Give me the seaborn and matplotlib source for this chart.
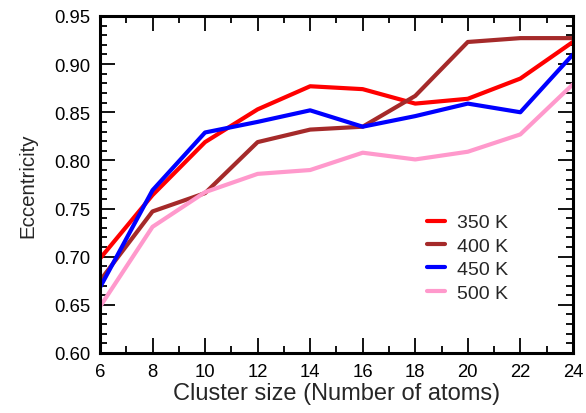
import matplotlib
matplotlib.use("Agg")
import matplotlib.pyplot as plt
from matplotlib.ticker import MultipleLocator
import seaborn as sns
import pandas as pd

sizes = [6, 8, 10, 12, 14, 16, 18, 20, 22, 24]
ecc_350 = [0.698, 0.764, 0.819, 0.853, 0.877, 0.874, 0.859, 0.864, 0.885, 0.923]
ecc_400 = [0.675, 0.747, 0.766, 0.819, 0.832, 0.835, 0.867, 0.923, 0.927, 0.927]
ecc_450 = [0.668, 0.769, 0.829, 0.840, 0.852, 0.835, 0.846, 0.859, 0.850, 0.910]
ecc_500 = [0.648, 0.731, 0.767, 0.786, 0.790, 0.808, 0.801, 0.809, 0.827, 0.879]
labels = ["350 K", "400 K", "450 K", "500 K"]
colors = ["#FF0000", "#A52A2A", "#0000FF", "#FF99CC"]

rows = []
for lab, vals in zip(labels, [ecc_350, ecc_400, ecc_450, ecc_500]):
    for s, v in zip(sizes, vals):
        rows.append({"size": s, "ecc": v, "T": lab})
df = pd.DataFrame(rows)

sns.set_style("ticks")
plt.rcParams["font.family"] = ["Liberation Sans", "DejaVu Sans"]

fig = plt.figure(figsize=(5.86, 4.14), dpi=100)
ax = fig.add_axes([0.1706, 0.145, 0.807, 0.814])
sns.lineplot(data=df, x="size", y="ecc", hue="T", palette=colors,
             hue_order=labels, linewidth=3, ax=ax)

ax.set_xlim(6, 24)
ax.set_ylim(0.60, 0.95)
ax.xaxis.set_major_locator(MultipleLocator(2))
ax.xaxis.set_minor_locator(MultipleLocator(1))
ax.yaxis.set_major_locator(MultipleLocator(0.05))
ax.yaxis.set_minor_locator(MultipleLocator(0.01))
ax.yaxis.set_major_formatter(matplotlib.ticker.FormatStrFormatter("%.2f"))
ax.tick_params(which="both", direction="in", top=True, right=True, width=1.3, colors="black")
ax.tick_params(which="major", length=11, labelsize=13.3, pad=7)
ax.tick_params(which="minor", length=5)
for sp in ax.spines.values():
    sp.set_visible(True)
    sp.set_linewidth(2.2)
    sp.set_color("black")

ax.set_xlabel("Cluster size (Number of atoms)", fontsize=17, labelpad=2)
ax.set_ylabel("Eccentricity", fontsize=14.8, labelpad=12)

leg = ax.legend(loc="upper left", bbox_to_anchor=(0.655, 0.465), frameon=False,
                fontsize=14, handlelength=0.9, handletextpad=0.65,
                labelspacing=0.3)
for line in leg.get_lines():
    line.set_linewidth(3)

fig.savefig("out.png", dpi=100)
